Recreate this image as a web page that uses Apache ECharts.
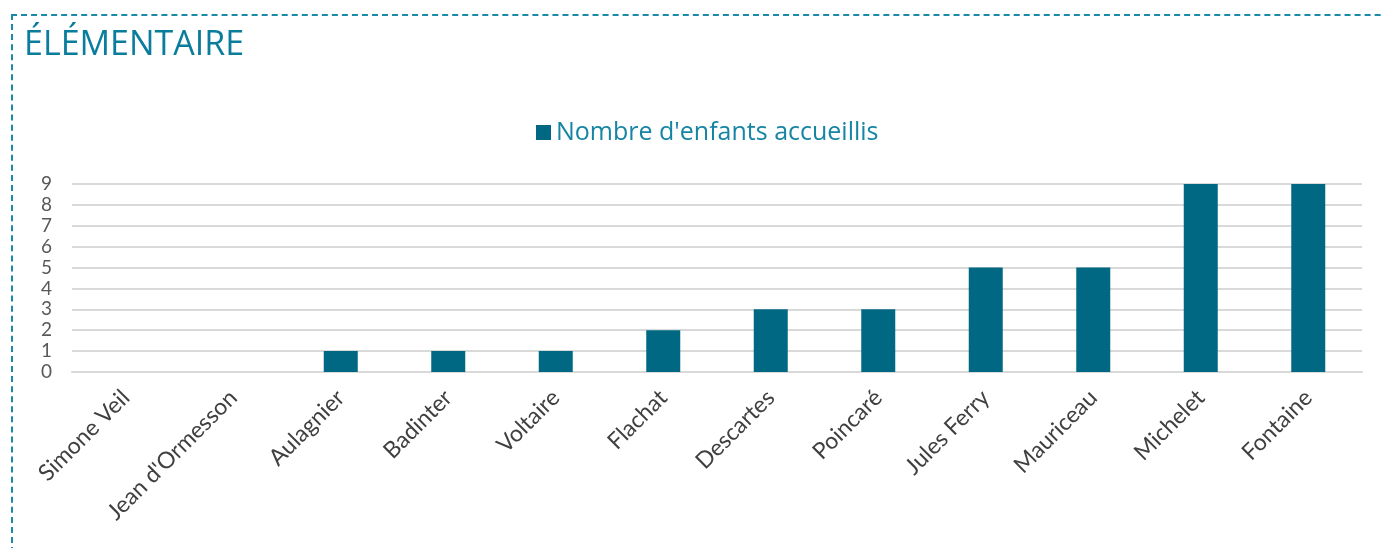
<!DOCTYPE html>
<html>
<head>
<meta charset="utf-8">
<script src="https://cdn.jsdelivr.net/npm/echarts@6/dist/echarts.min.js"></script>
<style>
  html, body { margin: 0; padding: 0; background: #fff; overflow: hidden; }
  #frame {
    position: absolute; left: 11px; top: 14px;
    width: 1500px; height: 700px;
    border: 2px dashed #1a8aa8;
    box-sizing: border-box;
  }
  #chart { position: absolute; left: 0; top: 0; width: 1384px; height: 548px; }
</style>
</head>
<body>
<div id="frame"></div>
<div id="chart"></div>
<script>
// écoles élémentaires
const schools = ['Simone Veil', "Jean d'Ormesson", 'Aulagnier', 'Badinter', 'Voltaire', 'Flachat',
  'Descartes', 'Poincaré', 'Jules Ferry', 'Mauriceau', 'Michelet', 'Fontaine']
const enfants = [0, 0, 1, 1, 1, 2, 3, 3, 5, 5, 9, 9]
const seriesName = "Nombre d'enfants accueillis"

const chart = echarts.init(document.getElementById('chart'))

chart.setOption({
  animation: false,
  backgroundColor: 'transparent',
  title: {
    text: 'ÉLÉMENTAIRE',
    left: 19,
    top: 23,
    textStyle: { fontFamily: 'Open Sans', fontSize: 34, fontWeight: 'normal', color: '#0a7d9c' }
  },
  legend: {
    data: [seriesName],
    top: 115,
    left: 531,
    icon: 'rect',
    itemWidth: 15,
    itemHeight: 15,
    itemGap: 10,
    textStyle: { fontFamily: 'Open Sans', fontSize: 25, color: '#1585a3' }
  },
  grid: { left: 72, right: 22, top: 184, bottom: 176, containLabel: false },
  xAxis: {
    type: 'category',
    data: schools,
    axisLine: { lineStyle: { color: '#d9d9d9', width: 2 } },
    axisTick: { show: false },
    axisLabel: {
      rotate: 45,
      interval: 0,
      margin: 22,
      fontFamily: 'Lato',
      fontSize: 23,
      color: '#404040'
    }
  },
  yAxis: {
    type: 'value',
    min: 0,
    max: 9,
    interval: 1,
    axisLine: { show: false },
    axisTick: { show: false },
    axisLabel: { margin: 20, fontFamily: 'Lato', fontSize: 19, color: '#595959' },
    splitLine: { lineStyle: { color: '#d9d9d9', width: 2 } }
  },
  series: [{
    name: seriesName,
    type: 'bar',
    data: enfants,
    barWidth: 34,
    itemStyle: { color: '#006882' }
  }]
})
</script>
</body>
</html>
